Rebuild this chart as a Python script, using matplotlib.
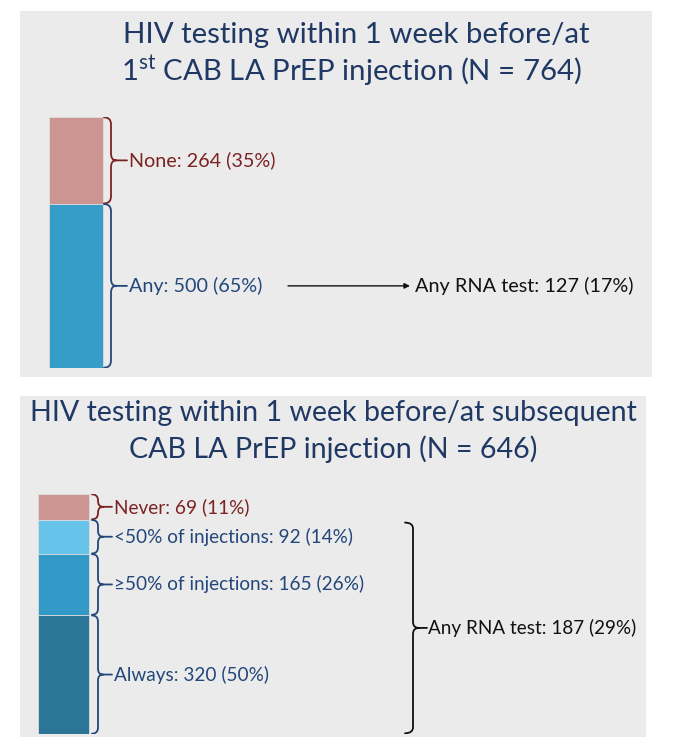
import numpy as np
import matplotlib
matplotlib.use("Agg")
import matplotlib.pyplot as plt
from matplotlib.path import Path
from matplotlib.patches import PathPatch, Rectangle

plt.rcParams['font.family'] = ['Lato', 'DejaVu Sans']
plt.rcParams['mathtext.fontset'] = 'custom'
plt.rcParams['mathtext.rm'] = 'Lato'

# ---- data ----
top_labels = ['None', 'Any']
top_counts = [264, 500]
top_pcts = [35, 65]
top_N = 764
top_rna = 127
top_rna_pct = 17

bot_labels = ['Never', '<50% of injections', '\u226550% of injections', 'Always']
bot_counts = [69, 92, 165, 320]
bot_pcts = [11, 14, 26, 50]
bot_N = 646
bot_rna = 187
bot_rna_pct = 29

# ---- style ----
W, H = 676, 751
BG = '#ebebeb'
TITLE_C = '#1f3864'
RED_T = '#7d2222'
BLUE_T = '#23477a'
top_colors = ['#cc9592', '#369dc9']
bot_colors = ['#cc9592', '#66c4ea', '#3399c7', '#2b7597']
bot_text_colors = [RED_T, BLUE_T, BLUE_T, BLUE_T]
top_text_colors = [RED_T, BLUE_T]

fig = plt.figure(figsize=(W / 100, H / 100), dpi=100)
fig.patch.set_facecolor('white')

# full-figure axes in pixel units for panels and titles
base = fig.add_axes([0, 0, 1, 1])
base.set_xlim(0, W)
base.set_ylim(H, 0)
base.axis('off')
base.add_patch(Rectangle((20, 11), 632, 366, facecolor=BG, edgecolor='none'))
base.add_patch(Rectangle((20, 396), 626, 341, facecolor=BG, edgecolor='none'))

base.text(356, 35, 'HIV testing within 1 week before/at', ha='center', va='center',
          fontsize=21.2, color=TITLE_C)
base.text(352, 71, '1$^{\\mathrm{st}}$ CAB LA PrEP injection (N = %d)' % top_N,
          ha='center', va='center', fontsize=21.2, color=TITLE_C)
base.text(333, 413, 'HIV testing within 1 week before/at subsequent', ha='center',
          va='center', fontsize=20.6, color=TITLE_C)
base.text(333, 449, 'CAB LA PrEP injection (N = %d)' % bot_N, ha='center',
          va='center', fontsize=20.6, color=TITLE_C)


def panel_axes(x0, x1, y0, y1, n):
    ax = fig.add_axes([x0 / W, 1 - y1 / H, (x1 - x0) / W, (y1 - y0) / H])
    ax.set_xlim(x0, x1)
    ax.set_ylim(n, 0)
    ax.axis('off')
    return ax


def brace(ax, y0, y1, xe, xm, xt, xd, r, color, lw=1.3):
    ym = (y0 + y1) / 2
    verts = [(xe, y0), (xm, y0), (xm, y0 + r),
             (xm, ym - r),
             (xm, ym), (xt, ym),
             (xd, ym),
             (xt, ym), (xm, ym), (xm, ym + r),
             (xm, y1 - r),
             (xm, y1), (xe, y1)]
    codes = [Path.MOVETO, Path.CURVE3, Path.CURVE3,
             Path.LINETO,
             Path.CURVE3, Path.CURVE3,
             Path.LINETO,
             Path.MOVETO, Path.CURVE3, Path.CURVE3,
             Path.LINETO,
             Path.CURVE3, Path.CURVE3]
    ax.add_patch(PathPatch(Path(verts, codes), facecolor='none', edgecolor=color,
                           lw=lw, capstyle='round', joinstyle='round'))
    return ym


# ---- top panel ----
ax1 = panel_axes(49, 652, 117, 368, top_N)
bottoms = np.concatenate([[0], np.cumsum(top_counts)[:-1]])
ax1.bar(76, top_counts, bottom=bottoms, width=54, color=top_colors,
        edgecolor='#dcdcdc', linewidth=0.6)
r1 = 7 / (251 / top_N)
for lab, c, p, b, tc in zip(top_labels, top_counts, top_pcts, bottoms, top_text_colors):
    ym = brace(ax1, b + 1, b + c - 1, 104, 111, 116, 127, r1, tc)
    ax1.text(129, ym, '%s: %d (%d%%)' % (lab, c, p), ha='left', va='center',
             fontsize=14.2, color=tc)
ym_any = bottoms[1] + top_counts[1] / 2
ax1.annotate('', xy=(410, ym_any), xytext=(288, ym_any),
             arrowprops=dict(arrowstyle='-|>', color='#111111', lw=1.0,
                             mutation_scale=8, shrinkA=0, shrinkB=0))
ax1.text(415, ym_any, 'Any RNA test: %d (%d%%)' % (top_rna, top_rna_pct), ha='left',
         va='center', fontsize=14.3, color='#111111')

# ---- bottom panel ----
ax2 = panel_axes(38, 646, 494, 734, bot_N)
bottoms2 = np.concatenate([[0], np.cumsum(bot_counts)[:-1]])
ax2.bar(63.5, bot_counts, bottom=bottoms2, width=51, color=bot_colors,
        edgecolor='#dcdcdc', linewidth=0.6)
r2 = 6 / (240 / bot_N)
for lab, c, p, b, tc in zip(bot_labels, bot_counts, bot_pcts, bottoms2, bot_text_colors):
    ym = brace(ax2, b + 1, b + c - 1, 92, 98, 103, 112, r2, tc)
    ax2.text(114, ym, '%s: %d (%d%%)' % (lab, c, p), ha='left', va='center',
             fontsize=13.7, color=tc)
ym_rna = brace(ax2, bottoms2[1] + 8, bot_N - 2, 405, 413, 419, 427, r2, '#111111')
ax2.text(428, ym_rna, 'Any RNA test: %d (%d%%)' % (bot_rna, bot_rna_pct), ha='left',
         va='center', fontsize=13.6, color='#111111')

fig.savefig('out.png', dpi=100, facecolor='white')
